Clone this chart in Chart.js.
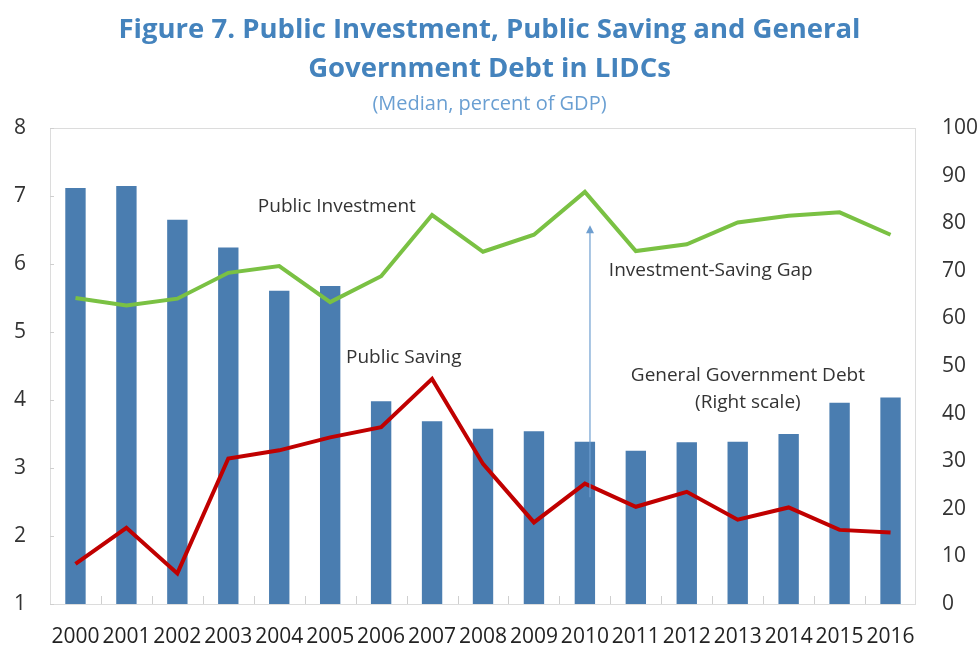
<!DOCTYPE html>
<html>
<head>
<meta charset="utf-8">
<script src="https://cdn.jsdelivr.net/npm/chart.js@4"></script>
<style>
  body { margin: 0; background: #fff; }
  canvas { display: block; }
</style>
</head>
<body>
<canvas id="myChart" width="979" height="648"></canvas>
<script>
const years = ["2000", "2001", "2002", "2003", "2004", "2005", "2006", "2007", "2008",
  "2009", "2010", "2011", "2012", "2013", "2014", "2015", "2016"];

// percent of GDP, left scale
const publicInvestment = [5.50, 5.39, 5.49, 5.87, 5.97, 5.44, 5.82, 6.72, 6.18,
  6.43, 7.06, 6.19, 6.29, 6.61, 6.71, 6.76, 6.43];
const publicSaving = [1.59, 2.12, 1.45, 3.14, 3.26, 3.45, 3.60, 4.31, 3.06,
  2.20, 2.77, 2.43, 2.65, 2.24, 2.42, 2.09, 2.05];

// percent of GDP, right scale
const govDebt = [87.4, 87.8, 80.7, 74.9, 65.8, 66.8, 42.6, 38.4, 36.8,
  36.3, 34.1, 32.2, 34.0, 34.1, 35.7, 42.3, 43.4];

const leftTicks = [1, 2, 3, 4, 5, 6, 7, 8];
const rightTicks = [0, 10, 20, 30, 40, 50, 60, 70, 80, 90, 100];

// text labels inside the plot: [text, category position, value, axis, align]
const notes = [
  ["Public Investment", 3.58, 6.85, "y", "left"],
  ["Public Saving", 5.31, 4.62, "y", "left"],
  ["Investment-Saving Gap", 10.47, 5.91, "y", "left"],
  ["General Government Debt", 13.2, 47.9, "y2", "center"],
  ["(Right scale)", 13.2, 42.4, "y2", "center"],
];
// arrow from saving up to investment, 2010
const gapArrow = { at: 10.1, from: 2.57, to: 6.57 };

const font = "'Open Sans', 'Noto Sans', sans-serif";

const decorations = {
  id: "decorations",
  afterDatasetsDraw(chart) {
    const { ctx, chartArea: a, scales } = chart;
    const x = scales.x;
    ctx.save();

    // frame
    ctx.strokeStyle = "#dcdcdc";
    ctx.lineWidth = 1;
    ctx.strokeRect(a.left + 0.5, a.top + 0.5, a.right - a.left - 1, a.bottom - a.top);
    ctx.strokeStyle = "#cfcfcf";
    ctx.beginPath();
    for (let i = 1; i < years.length; i++) {
      const px = Math.round(x.getPixelForValue(i - 0.5)) + 0.5;
      ctx.moveTo(px, a.bottom);
      ctx.lineTo(px, a.bottom - 8);
    }
    leftTicks.forEach(v => {
      const py = Math.round(scales.y.getPixelForValue(v)) + 0.5;
      ctx.moveTo(a.left, py);
      ctx.lineTo(a.left + 4, py);
    });
    ctx.stroke();

    // arrow
    const ax = x.getPixelForValue(gapArrow.at);
    const y0 = scales.y.getPixelForValue(gapArrow.from);
    const y1 = scales.y.getPixelForValue(gapArrow.to);
    ctx.strokeStyle = "#6f9fd0";
    ctx.fillStyle = "#6f9fd0";
    ctx.lineWidth = 1.2;
    ctx.beginPath();
    ctx.moveTo(ax, y0);
    ctx.lineTo(ax, y1 + 6);
    ctx.stroke();
    ctx.beginPath();
    ctx.moveTo(ax, y1);
    ctx.lineTo(ax - 4, y1 + 8);
    ctx.lineTo(ax + 4, y1 + 8);
    ctx.closePath();
    ctx.fill();

    // notes
    ctx.fillStyle = "#333";
    ctx.font = "19px " + font;
    ctx.textBaseline = "middle";
    notes.forEach(([text, cx, v, axis, align]) => {
      ctx.textAlign = align;
      ctx.fillText(text, x.getPixelForValue(cx), scales[axis].getPixelForValue(v));
    });
    ctx.restore();
  },
};

const ctx = document.getElementById("myChart");
new Chart(ctx, {
  data: {
    labels: years,
    datasets: [
      {
        type: "line",
        label: "Public Investment",
        data: publicInvestment,
        yAxisID: "y",
        borderColor: "#7ac143",
        borderWidth: 4,
        pointRadius: 0,
        tension: 0,
        order: 1,
      },
      {
        type: "line",
        label: "Public Saving",
        data: publicSaving,
        yAxisID: "y",
        borderColor: "#c00000",
        borderWidth: 4,
        pointRadius: 0,
        tension: 0,
        order: 2,
      },
      {
        type: "bar",
        label: "General Government Debt",
        data: govDebt,
        yAxisID: "y2",
        backgroundColor: "#4a7db0",
        categoryPercentage: 1,
        barPercentage: 0.4,
        order: 3,
      },
    ],
  },
  options: {
    responsive: false,
    animation: false,
    layout: { padding: 0 },
    plugins: {
      legend: { display: false },
      tooltip: { enabled: false },
      title: {
        display: true,
        text: ["Figure 7. Public Investment, Public Saving and General", "Government Debt in LIDCs"],
        color: "#4483bd",
        font: { family: font, size: 27.5, weight: "bold", lineHeight: 1.4 },
        padding: { top: 11, bottom: 4 },
      },
      subtitle: {
        display: true,
        text: "(Median, percent of GDP)",
        color: "#6a9fd2",
        font: { family: font, size: 20, lineHeight: 1.2 },
        padding: { top: 0, bottom: 12 },
      },
    },
    scales: {
      x: {
        type: "category",
        offset: true,
        grid: { display: false },
        border: { display: false },
        ticks: {
          color: "#222",
          font: { family: font, size: 21 },
          maxRotation: 0,
          autoSkip: false,
          padding: 12,
        },
        afterFit: s => { s.height = 44; },
      },
      y: {
        type: "linear",
        position: "left",
        min: 1,
        max: 8,
        afterBuildTicks: s => { s.ticks = leftTicks.map(v => ({ value: v })); },
        grid: { display: false, drawTicks: false },
        border: { display: false },
        ticks: { color: "#333", font: { family: font, size: 21 }, padding: 24 },
        afterFit: s => { s.width = 50; },
      },
      y2: {
        type: "linear",
        position: "right",
        min: 0,
        max: 100,
        afterBuildTicks: s => { s.ticks = rightTicks.map(v => ({ value: v })); },
        grid: { display: false, drawTicks: false },
        border: { display: false },
        ticks: { color: "#333", font: { family: font, size: 21 }, padding: 26 },
        afterFit: s => { s.width = 63; },
      },
    },
  },
  plugins: [decorations],
});
</script>
</body>
</html>
